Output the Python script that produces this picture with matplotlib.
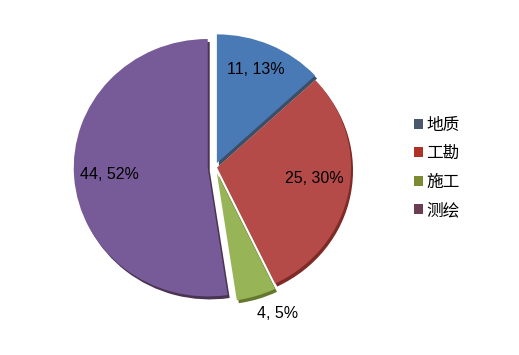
import numpy as np
import matplotlib
matplotlib.use("Agg")
import matplotlib.pyplot as plt
from matplotlib.patches import Patch

plt.rcParams['font.family'] = ['Liberation Sans', 'Noto Sans CJK SC', 'DejaVu Sans']

categories = ["地质", "工勘", "施工", "测绘"]
values = [11, 25, 4, 44]
percents = [13, 30, 5, 52]
colors = ["#4a7ab6", "#b44b48", "#97b556", "#775a98"]
shadow_colors = ["#3b5068", "#7e2a26", "#66782e", "#4a3452"]
legend_colors = ["#4a5a6c", "#ad3326", "#7c8a34", "#6b3d52"]
explode = [4.5, 2, 6, 7]           # offsets in px
label_dist = [0.815, 0.744, 1.224, 0.786]
label_dang = [1.5, 4.2, 5.1, -0.4]

W, H = 519, 355
SX = 1.041                      # slight horizontal stretch of the pie
fig = plt.figure(figsize=(W / 100, H / 100), dpi=100)
ax = fig.add_axes([0, 0, 1, 1])

cxp, cyp, R = 215, 167.2, 128.7
cx, cy = cxp / SX, H - cyp

ax.pie(values, explode=explode, colors=shadow_colors, startangle=90,
       counterclock=False, radius=R, center=(cx + 2 / SX, cy - 3),
       wedgeprops=dict(linewidth=0), frame=True)
wedges, _ = ax.pie(values, explode=explode, colors=colors, startangle=90,
                   counterclock=False, radius=R, center=(cx, cy),
                   wedgeprops=dict(linewidth=0), frame=True)
ax.set_aspect('auto')
ax.set_xlim(0, W / SX)
ax.set_ylim(0, H)
ax.axis('off')

for w, v, p, d, da in zip(wedges, values, percents, label_dist, label_dang):
    th = np.deg2rad((w.theta1 + w.theta2) / 2 + da)
    x = cx + d * R * np.cos(th)
    y = cy + d * R * np.sin(th)
    ax.text(x, y, f"{v}, {p}%", ha='center', va='center', fontsize=11.5, color='black')

handles = [Patch(facecolor=c, edgecolor='none') for c in legend_colors]
leg = fig.legend(handles, categories, loc='center left', bbox_to_anchor=(399 / W, 1 - 168 / H),
                 frameon=False, handlelength=0.55, handleheight=0.55,
                 handletextpad=0.2, labelspacing=0.68,
                 prop={'family': ['Noto Sans CJK SC'], 'size': 12})

fig.savefig("out.png", dpi=100)
